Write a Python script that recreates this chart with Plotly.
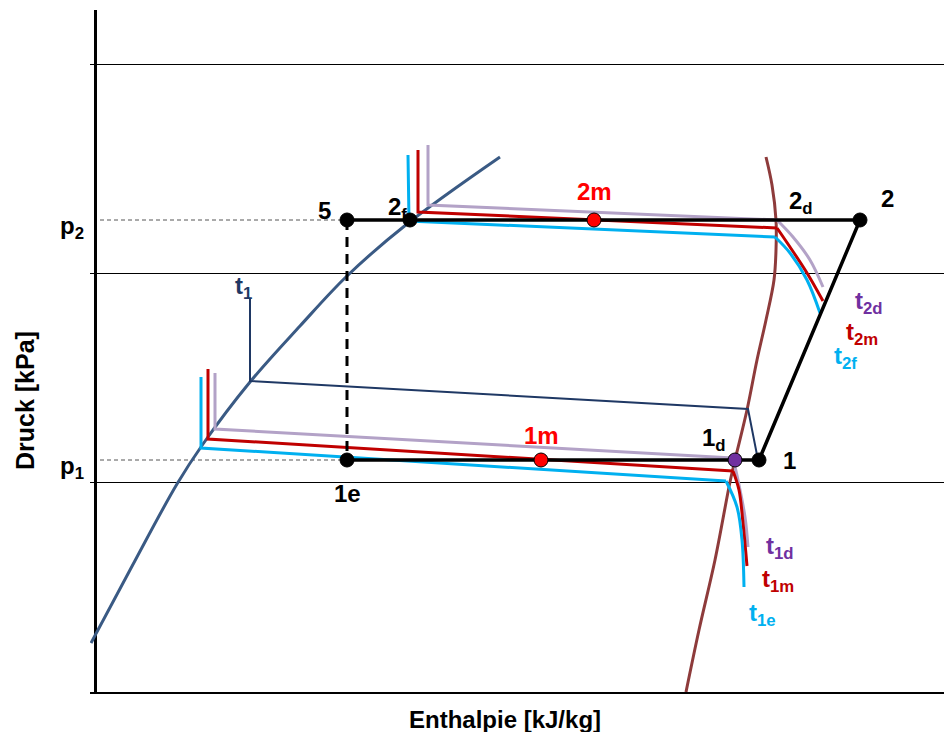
import plotly.graph_objects as go

# ---- data (schematic enthalpy / pressure units) ----
sat_liq_h = [-4, 35, 82, 108, 155, 205, 252, 312, 405]
sat_liq_p = [49, 122, 208, 248, 310, 366, 416, 468, 535]

sat_vap_h = [671, 677, 681, 681, 679, 671, 662, 652, 640, 635, 620, 604, 591]
sat_vap_p = [535, 507, 472, 442, 412, 372, 332, 282, 232, 210, 132, 62, 0]

cycle_h = [252, 765, 664, 252]
cycle_p = [472, 472, 232, 232]

throttle_h = [252, 252]
throttle_p = [472, 232]

t1_h = [155, 155, 653, 663]
t1_p = [394, 311, 283, 232]

# condenser temperature profiles (vertical + sloped part, then curved tail)
t2f_h = [313, 314, 680]; t2f_p = [537, 471, 455]
t2f_tail_h = [680, 695, 712, 725]; t2f_tail_p = [455, 439, 412, 379]
t2m_h = [323, 323, 682]; t2m_p = [542, 480, 464]
t2m_tail_h = [682, 695, 712, 728]; t2m_tail_p = [464, 445, 419, 391]
t2d_h = [333, 333, 682]; t2d_p = [547, 487, 472]
t2d_tail_h = [682, 698, 715, 728]; t2d_tail_p = [472, 455, 432, 405]

# evaporator temperature profiles
t1e_h = [106, 106, 631]; t1e_p = [315, 244, 211]
t1e_tail_h = [631, 642, 647, 649]; t1e_tail_p = [211, 185, 152, 105]
t1m_h = [113, 113, 638]; t1m_p = [323, 253, 221]
t1m_tail_h = [638, 644, 648, 652]; t1m_tail_p = [221, 202, 169, 126]
t1d_h = [120, 120, 638]; t1d_p = [319, 263, 234]
t1d_tail_h = [638, 643, 650, 653]; t1d_tail_p = [234, 212, 175, 145]

p_levels = [472, 232]
p_labels = ["p<sub>2</sub>", "p<sub>1</sub>"]
grid_p = [210, 419, 628]

state_h = [252, 315, 499, 765, 664, 640, 446, 252]
state_p = [472, 472, 472, 472, 232, 232, 232, 232]
state_col = ["black", "black", "#FF0000", "black", "black", "#7030A0", "#FF0000", "black"]

labels = [
    ("<b>5</b>", 229, 482, "black"),
    ("<b>2<sub>f</sub></b>", 302, 484, "black"),
    ("<b>2m</b>", 499, 501, "#FF0000"),
    ("<b>2<sub>d</sub></b>", 706, 490, "black"),
    ("<b>2</b>", 792, 494, "black"),
    ("<b>t<sub>2d</sub></b>", 774, 390, "#7030A0"),
    ("<b>t<sub>2m</sub></b>", 767, 359, "#C00000"),
    ("<b>t<sub>2f</sub></b>", 750, 335, "#00B0F0"),
    ("<b>t<sub>1</sub></b>", 148, 405, "#1F3864"),
    ("<b>1m</b>", 446, 257, "#FF0000"),
    ("<b>1<sub>d</sub></b>", 619, 253, "black"),
    ("<b>1</b>", 694, 232, "black"),
    ("<b>1e</b>", 252, 199, "black"),
    ("<b>t<sub>1d</sub></b>", 685, 145, "#7030A0"),
    ("<b>t<sub>1m</sub></b>", 683, 112, "#C00000"),
    ("<b>t<sub>1e</sub></b>", 667, 78, "#00B0F0"),
]

CYAN = "#00B0F0"
RED = "#C00000"
LAV = "#B3A2C7"

fig = go.Figure()

def line(h, p, color, width, dash=None, shape="linear"):
    fig.add_trace(go.Scatter(x=h, y=p, mode="lines",
                             line=dict(color=color, width=width, dash=dash, shape=shape),
                             hoverinfo="skip", showlegend=False))

# dashed pressure guide lines
for pl in p_levels:
    line([5, 252], [pl, pl], "#555555", 1, dash="4px,3px")

# saturation curves
line(sat_liq_h, sat_liq_p, "#3A5A84", 3, shape="spline")
line(sat_vap_h, sat_vap_p, "#8E3B3B", 3, shape="spline")

# temperature profiles
for h, p, th, tp, c in [
    (t2d_h, t2d_p, t2d_tail_h, t2d_tail_p, LAV),
    (t2m_h, t2m_p, t2m_tail_h, t2m_tail_p, RED),
    (t2f_h, t2f_p, t2f_tail_h, t2f_tail_p, CYAN),
    (t1d_h, t1d_p, t1d_tail_h, t1d_tail_p, LAV),
    (t1m_h, t1m_p, t1m_tail_h, t1m_tail_p, RED),
    (t1e_h, t1e_p, t1e_tail_h, t1e_tail_p, CYAN),
]:
    line(h, p, c, 3)
    line(th, tp, c, 3, shape="spline")

# cycle
line(throttle_h, throttle_p, "black", 3, dash="10px,7px")
line(cycle_h, cycle_p, "black", 3.5)
line(t1_h, t1_p, "#1F3864", 2)

fig.add_trace(go.Scatter(x=state_h, y=state_p, mode="markers",
                         marker=dict(size=14, color=state_col,
                                     line=dict(color="black", width=1)),
                         hoverinfo="skip", showlegend=False))

FONT = "Liberation Sans, Arial, sans-serif"
for txt, x, y, c in labels:
    fig.add_annotation(x=x, y=y, text=txt, showarrow=False,
                       font=dict(family=FONT, size=24, color=c),
                       xanchor="center", yanchor="middle")

for txt, pl in zip(p_labels, p_levels):
    fig.add_annotation(xref="paper", yref="y", x=-0.021, y=pl - 7, text="<b>" + txt + "</b>",
                       showarrow=False, font=dict(family=FONT, size=24, color="black"),
                       xanchor="center", yanchor="middle")

fig.add_annotation(xref="paper", yref="paper", x=-0.0758, y=0.428,
                   text="<b>Druck [kPa]</b>", textangle=-90, showarrow=False,
                   font=dict(family=FONT, size=25, color="black"),
                   xanchor="center", yanchor="middle")
fig.add_annotation(xref="paper", yref="paper", x=0.4837, y=-0.0396,
                   text="<b>Enthalpie [kJ/kg]</b>", showarrow=False,
                   font=dict(family=FONT, size=24, color="black"),
                   xanchor="center", yanchor="middle")

fig.update_layout(
    width=940, height=724,
    margin=dict(l=82, r=0, t=2, b=40),
    paper_bgcolor="white", plot_bgcolor="white",
    xaxis=dict(range=[-5, 853], showgrid=False, showticklabels=False, ticks="",
               zeroline=True, zerolinecolor="black", zerolinewidth=2.5,
               showline=True, linecolor="black", linewidth=1.5, mirror=False,
               fixedrange=True),
    yaxis=dict(range=[0, 682], tickvals=grid_p, showticklabels=False, ticks="",
               showgrid=True, gridcolor="black", gridwidth=1,
               zeroline=False, showline=False, fixedrange=True),
)

fig.write_html("out.html")
